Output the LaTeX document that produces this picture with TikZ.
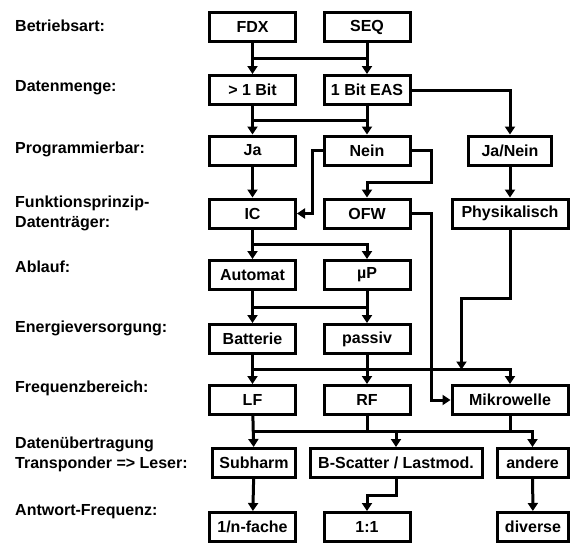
\documentclass[tikz,border=0pt]{standalone}
\usepackage{fontspec}
\setmainfont{Liberation Sans}
\usepackage{tikz}
\usetikzlibrary{arrows.meta, calc}
\tikzstyle{box} = [rectangle, minimum width=86pt, minimum height=29pt, text centered, draw=black, line width=3pt, font=\bfseries\fontsize{16}{18}\selectfont]
\tikzstyle{rowtext} = [inner sep=0pt, align=left, font=\bfseries\fontsize{16}{20}\selectfont]
\tikzstyle{arrow} = [line width=3pt, -{Triangle[length=8pt,width=10pt]}]
\tikzstyle{wire} = [line width=3pt]

\begin{document}
\begin{tikzpicture}[x=1pt, y=-1pt]
        \useasboundingbox (0,0) rectangle (572,543);

        \node (l1) [rowtext, anchor=base west] at (15,32) {Betriebsart:};
        \node (l2) [rowtext, anchor=base west] at (15,91) {Datenmenge:};
        \node (l3) [rowtext, anchor=base west] at (15,153) {Programmierbar:};
        \node (l4) [rowtext, anchor=west] at (15,213) {Funktionsprinzip-\\Datenträger:};
        \node (l5) [rowtext, anchor=base west] at (15,272) {Ablauf:};
        \node (l6) [rowtext, anchor=base west] at (15,332) {Energieversorgung:};
        \node (l7) [rowtext, anchor=base west] at (15,392) {Frequenzbereich:};
        \node (l8) [rowtext, anchor=west] at (15,454) {Datenübertragung\\Transponder => Leser:};
        \node (l9) [rowtext, anchor=base west] at (15,515) {Antwort-Frequenz:};

        \node (fdx) [box] at (252.5,27) {FDX};
        \node (seq) [box] at (367,27) {SEQ};
        \node (gt1) [box] at (252.5,90) {> 1 Bit};
        \node (eas) [box] at (367,90) {1 Bit EAS};
        \node (ja) [box] at (252.5,150.5) {Ja};
        \node (nein) [box] at (367,150.5) {Nein};
        \node (janein) [box, minimum width=83pt] at (510,150.5) {Ja/Nein};
        \node (ic) [box] at (252.5,213.5) {IC};
        \node (ofw) [box] at (367,213.5) {OFW};
        \node (phys) [box, minimum width=116pt] at (510,213.5) {Physikalisch};
        \node (automat) [box] at (252.5,275) {Automat};
        \node (up) [box] at (367,275) {µP};
        \node (batterie) [box] at (252.5,339) {Batterie};
        \node (passiv) [box] at (367,339) {passiv};
        \node (lf) [box] at (252.5,400) {LF};
        \node (rf) [box] at (367,400) {RF};
        \node (mikro) [box, minimum width=116pt] at (510,400) {Mikrowelle};
        \node (subharm) [box, minimum width=83pt] at (254,463) {Subharm};
        \node (bscatter) [box, minimum width=172pt] at (396,463) {B-Scatter / Lastmod.};
        \node (andere) [box, minimum width=71pt] at (532.5,463) {andere};
        \node (nfach) [box] at (252.5,527) {1/n-fache};
        \node (eins) [box] at (367,527) {1:1};
        \node (diverse) [box, minimum width=71pt] at (533,527) {diverse};

        \coordinate (b1) at ($(fdx.south)!.5!(gt1.north)$);
        \coordinate (b2) at ($(gt1.south)!.5!(ja.north)$);
        \coordinate (b4) at ($(ic.south)!.5!(automat.north)$);
        \coordinate (b5) at ($(automat.south)!.5!(batterie.north)$);
        \coordinate (b6) at ($(batterie.south)!.5!(lf.north)$);
        \coordinate (b7) at ($(lf.south)!.5!(subharm.north)$);
        \coordinate (pm) at ($(b6)+(209,0)$);

        \draw [arrow] (fdx) -- (gt1);
        \draw [arrow] (seq) -- (eas);
        \draw [wire] (b1) -- (b1 -| seq.south);
        \draw [arrow] (eas.east) -| (janein.north);
        \draw [arrow] (gt1) -- (ja);
        \draw [arrow] (eas) -- (nein);
        \draw [wire] (b2) -- (b2 -| eas.south);
        \draw [arrow] (ja) -- (ic);
        \draw [arrow] (nein.west) -- ++(-10,0) |- (ic.east);
        \draw [arrow] (nein.east) -- ++(20,0) |- ($(nein.south)!.5!(ofw.north)$) -- (ofw.north);
        \draw [arrow] (ofw.east) -- ++(20,0) |- (mikro.west);
        \draw [arrow] (janein) -- (phys);
        \draw [arrow] (ic) -- (automat);
        \draw [arrow] (b4) -| (up.north);
        \draw [arrow] (automat) -- (batterie);
        \draw [arrow] (up) -- (passiv);
        \draw [wire] (b5) -- (b5 -| up.south);
        \draw [arrow] (batterie) -- (lf);
        \draw [arrow] (passiv) -- (rf);
        \draw [arrow] (b6) -| (mikro.north);
        \draw [arrow] (phys.south) -- ++(0,69) -| (pm);
        \draw [arrow] (lf) -- (subharm);
        \draw [wire] (rf.south) -- (rf.south |- b7);
        \draw [wire] (mikro.south) -- (mikro.south |- b7);
        \draw [arrow] (b7) -| (andere.north);
        \draw [arrow] (bscatter.north |- b7) -- (bscatter.north);
        \draw [arrow] (subharm) -- (nfach);
        \draw [arrow] (bscatter.south) -- ++(0,16.5) -| (eins.north);
        \draw [arrow] (andere) -- (diverse);
    \end{tikzpicture}
\end{document}
